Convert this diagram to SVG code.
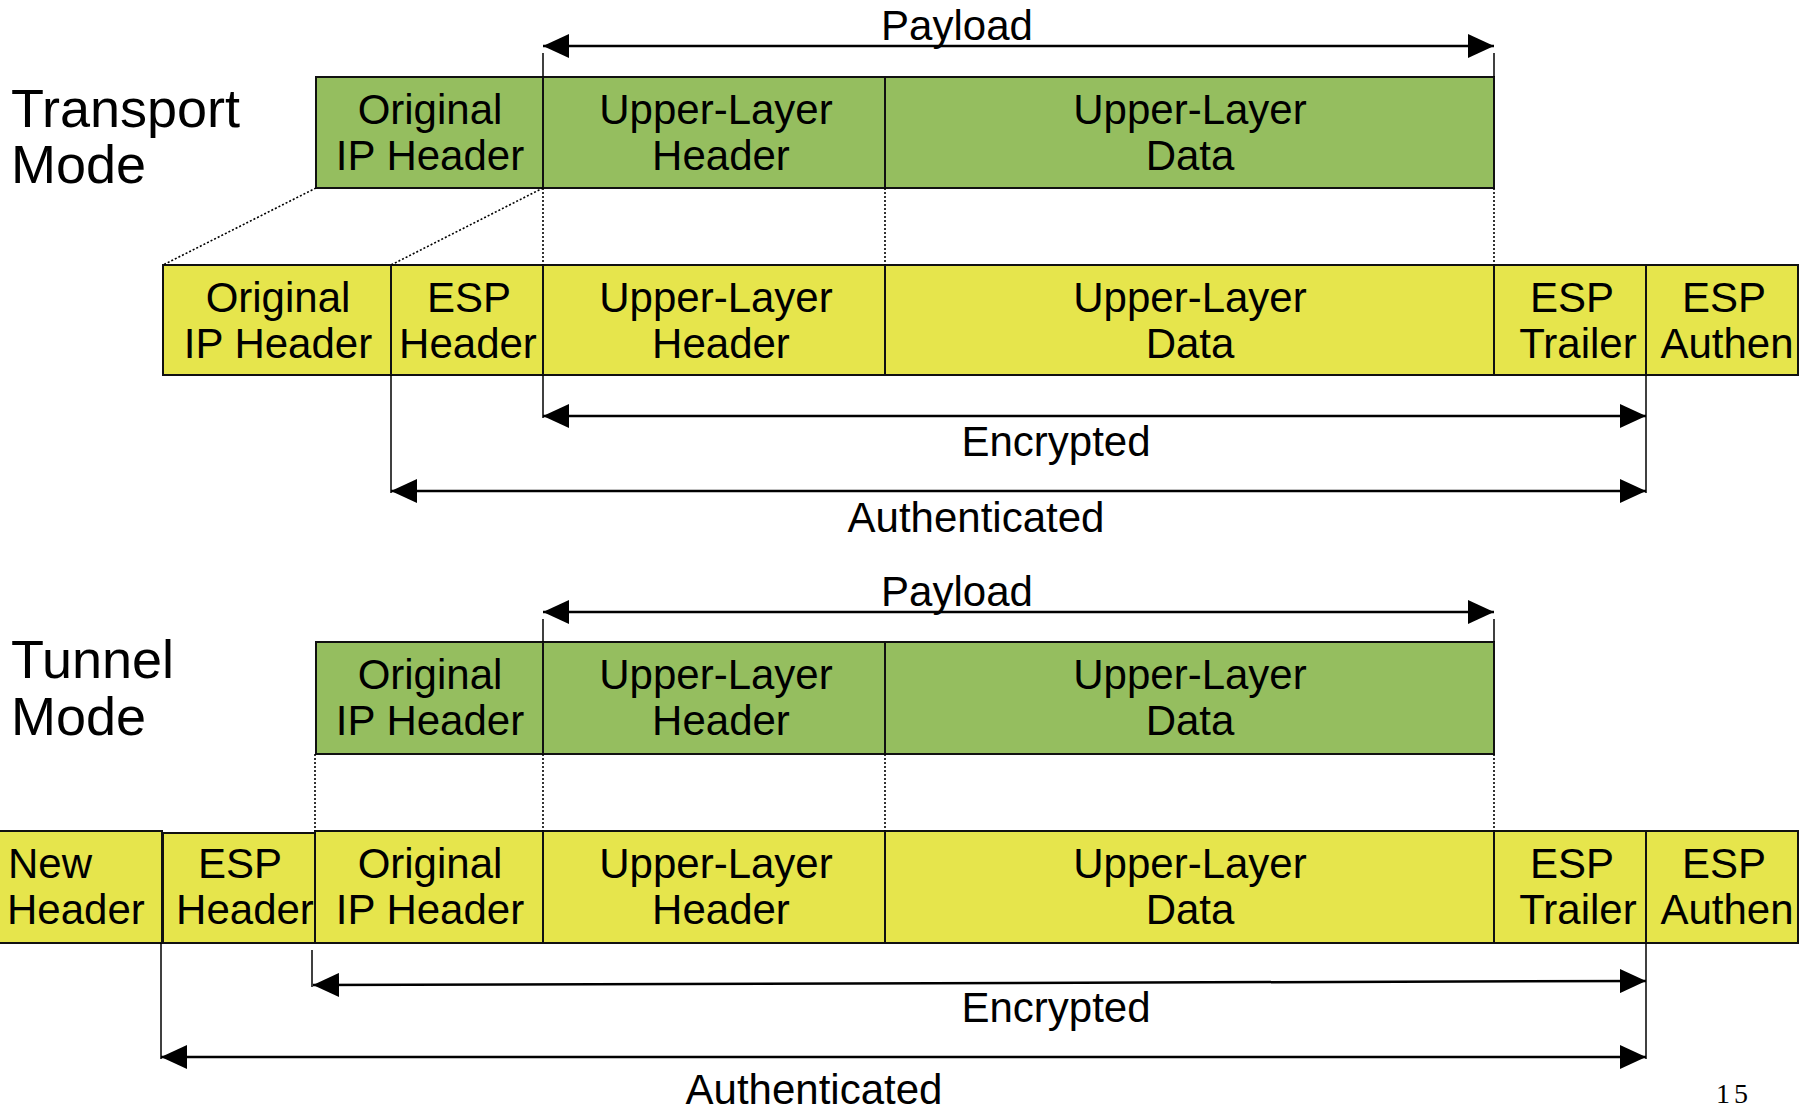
<svg xmlns="http://www.w3.org/2000/svg" width="1800" height="1110" viewBox="0 0 1800 1110">
<style>
text{font-family:"Liberation Sans",Arial,sans-serif;font-size:42px;fill:#000;text-anchor:middle}
.title{font-size:54px;text-anchor:start}
.g{fill:#95BE5F;stroke:#111;stroke-width:2}
.y{fill:#E6E54C;stroke:#111;stroke-width:2}
.arr{stroke:#000;stroke-width:2.5;fill:none;marker-start:url(#ah);marker-end:url(#ah)}
.tick{stroke:#000;stroke-width:1.5;fill:none}
.dot{stroke:#000;stroke-width:1.6;fill:none;stroke-dasharray:2 2}
.pg{font-family:"Liberation Serif","Times New Roman",serif;font-size:28px;letter-spacing:4px}
</style>
<defs>
<marker id="ah" viewBox="0 0 26 24" refX="26" refY="12" markerWidth="26" markerHeight="24" markerUnits="userSpaceOnUse" orient="auto-start-reverse">
<path d="M0,0 L26,12 L0,24 z" fill="#000"/>
</marker>
</defs>
<rect width="1800" height="1110" fill="#fff"/>

<text class="title" x="11" y="127">Transport</text>
<text class="title" x="11" y="183">Mode</text>
<text class="title" x="11" y="678">Tunnel</text>
<text class="title" x="11" y="735">Mode</text>

<!-- Transport original -->
<g id="t-orig-ip"><rect class="g" x="316" y="77" width="227" height="111"/><text x="430" y="124">Original</text><text x="430" y="170">IP Header</text></g>
<g id="t-orig-ulh"><rect class="g" x="543" y="77" width="342" height="111"/><text x="716" y="124">Upper-Layer</text><text x="721" y="170">Header</text></g>
<g id="t-orig-uld"><rect class="g" x="885" y="77" width="609" height="111"/><text x="1190" y="124">Upper-Layer</text><text x="1190" y="170">Data</text></g>

<!-- Transport ESP -->
<g id="t-esp-ip"><rect class="y" x="163" y="265" width="228" height="110"/><text x="278" y="312">Original</text><text x="278" y="358">IP Header</text></g>
<g id="t-esp-hdr"><rect class="y" x="391" y="265" width="152" height="110"/><text x="469" y="312">ESP</text><text x="468" y="358">Header</text></g>
<g id="t-esp-ulh"><rect class="y" x="543" y="265" width="342" height="110"/><text x="716" y="312">Upper-Layer</text><text x="721" y="358">Header</text></g>
<g id="t-esp-uld"><rect class="y" x="885" y="265" width="609" height="110"/><text x="1190" y="312">Upper-Layer</text><text x="1190" y="358">Data</text></g>
<g id="t-esp-trl"><rect class="y" x="1494" y="265" width="152" height="110"/><text x="1572" y="312">ESP</text><text x="1578" y="358">Trailer</text></g>
<g id="t-esp-auth"><rect class="y" x="1646" y="265" width="152" height="110"/><text x="1724" y="312">ESP</text><text x="1727" y="358">Authen</text></g>

<!-- Tunnel original -->
<g id="u-orig-ip"><rect class="g" x="316" y="642" width="227" height="112"/><text x="430" y="689">Original</text><text x="430" y="735">IP Header</text></g>
<g id="u-orig-ulh"><rect class="g" x="543" y="642" width="342" height="112"/><text x="716" y="689">Upper-Layer</text><text x="721" y="735">Header</text></g>
<g id="u-orig-uld"><rect class="g" x="885" y="642" width="609" height="112"/><text x="1190" y="689">Upper-Layer</text><text x="1190" y="735">Data</text></g>

<!-- Tunnel ESP -->
<g id="u-new-hdr"><rect class="y" x="-2" y="831" width="164" height="112"/><text x="8" y="878" style="text-anchor:start">New</text><text x="7" y="924" style="text-anchor:start">Header</text></g>
<g id="u-esp-hdr"><rect class="y" x="163" y="833" width="152" height="110"/><text x="240" y="878">ESP</text><text x="245" y="924">Header</text></g>
<g id="u-esp-ip"><rect class="y" x="315" y="831" width="228" height="112"/><text x="430" y="878">Original</text><text x="430" y="924">IP Header</text></g>
<g id="u-esp-ulh"><rect class="y" x="543" y="831" width="342" height="112"/><text x="716" y="878">Upper-Layer</text><text x="721" y="924">Header</text></g>
<g id="u-esp-uld"><rect class="y" x="885" y="831" width="609" height="112"/><text x="1190" y="878">Upper-Layer</text><text x="1190" y="924">Data</text></g>
<g id="u-esp-trl"><rect class="y" x="1494" y="831" width="152" height="112"/><text x="1572" y="878">ESP</text><text x="1578" y="924">Trailer</text></g>
<g id="u-esp-auth"><rect class="y" x="1646" y="831" width="152" height="112"/><text x="1724" y="878">ESP</text><text x="1727" y="924">Authen</text></g>

<g id="connectors">
<!-- transport -->
<line class="tick" x1="543" y1="53" x2="543" y2="77"/>
<line class="tick" x1="1494" y1="53" x2="1494" y2="77"/>
<line class="arr" x1="543" y1="46" x2="1494" y2="46"/>
<line class="dot" x1="316" y1="188" x2="163" y2="265"/>
<line class="dot" x1="543" y1="188" x2="391" y2="265"/>
<line class="dot" x1="543" y1="188" x2="543" y2="265"/>
<line class="dot" x1="885" y1="188" x2="885" y2="265"/>
<line class="dot" x1="1494" y1="188" x2="1494" y2="265"/>
<line class="tick" x1="543" y1="375" x2="543" y2="418"/>
<line class="tick" x1="391" y1="375" x2="391" y2="493"/>
<line class="tick" x1="1646" y1="375" x2="1646" y2="493"/>
<line class="arr" x1="543" y1="416" x2="1646" y2="416"/>
<line class="arr" x1="391" y1="491" x2="1646" y2="491"/>
<!-- tunnel -->
<line class="tick" x1="543" y1="619" x2="543" y2="642"/>
<line class="tick" x1="1494" y1="619" x2="1494" y2="642"/>
<line class="arr" x1="543" y1="612" x2="1494" y2="612"/>
<line class="dot" x1="315" y1="754" x2="315" y2="831"/>
<line class="dot" x1="543" y1="754" x2="543" y2="831"/>
<line class="dot" x1="885" y1="754" x2="885" y2="831"/>
<line class="dot" x1="1494" y1="754" x2="1494" y2="831"/>
<line class="tick" x1="312" y1="950" x2="312" y2="987"/>
<line class="tick" x1="161" y1="943" x2="161" y2="1059"/>
<line class="tick" x1="1646" y1="943" x2="1646" y2="1059"/>
<line class="arr" x1="313" y1="985" x2="1646" y2="981"/>
<line class="arr" x1="161" y1="1057" x2="1646" y2="1057"/>
</g>

<text x="957" y="40">Payload</text>
<text x="1056" y="456">Encrypted</text>
<text x="976" y="532">Authenticated</text>
<text x="957" y="606">Payload</text>
<text x="1056" y="1022">Encrypted</text>
<text x="814" y="1104">Authenticated</text>
<text class="pg" x="1734" y="1103">15</text>
</svg>
